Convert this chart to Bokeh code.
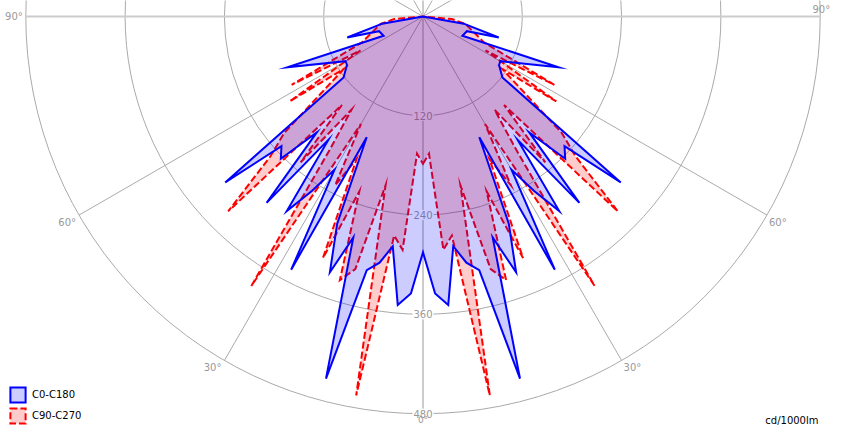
import numpy as np
from bokeh.plotting import figure
from bokeh.models import Range1d, Label, Legend, LegendItem
from bokeh.core.properties import value
from bokeh.embed import file_html
from bokeh.resources import INLINE

# ---- data (gamma angle in degrees, intensity in cd/1000lm), one half, mirrored for the other half
c0_angles = [0, 2.5, 5, 7.5, 10, 12.5, 15, 17.5, 20, 22.5, 25, 27.5, 30, 32.5, 35, 37.5, 40,
             42.5, 45, 47.5, 50, 52.5, 57.5, 60, 69.5, 64, 71.5, 74.5, 80, 90]
c0_values = [285, 335, 350, 280, 302, 314, 453, 280, 329, 271, 161, 345, 214, 250, 287, 188, 294,
             190, 243, 232, 312, 121, 109, 108, 175, 53, 56, 95, 50, 0]

c90_angles = [0, 2.5, 5, 7.5, 10, 12.5, 15, 17.5, 20, 22.5, 25, 27.5, 30, 32.5, 35, 37.5, 40,
              42.5, 45, 47.5, 50, 56.5, 57.5, 61.5, 62.5, 67, 75, 80, 85, 90]
c90_values = [178, 166, 283, 267, 465, 209, 316, 334, 225, 316, 190, 230, 150, 386, 196, 142, 230,
              145, 333, 250, 219, 115, 191, 86, 179, 80, 60, 52, 35, 0]

series_names = ["C0-C180", "C90-C270"]
ring_values = [120, 240, 360, 480]
spoke_angles = [0, 30, 60, 90, 120, 150, 180, 210, 240, 270, 300, 330]
main_spokes = [0, 90, 180, 270]
angle_label_values = [0, 30, 60, 90, -30, -60, -90]
angle_label_texts = ["0°", "30°", "60°", "90°", "30°", "60°", "90°"]
unit_text = "cd/1000lm"

# ---- layout
PX = 0.8275            # pixels per cd
W, H = 831, 425
CX, CY = 422.5, 16.0   # centre in frame pixels
FONT = "DejaVu Sans"
GRAY = "#999999"

def polar(angles, values):
    a = np.radians(np.asarray(angles, float))
    v = np.asarray(values, float)
    xr, yr = v * np.sin(a), -v * np.cos(a)
    return np.concatenate([xr, -xr[::-1]]), np.concatenate([yr, yr[::-1]])

x0 = -CX / PX
x1 = x0 + W / PX
y1 = CY / PX
y0 = y1 - H / PX

p = figure(width=W, height=H, x_range=Range1d(x0, x1), y_range=Range1d(y0, y1),
           output_backend="svg", toolbar_location=None, min_border=0,
           x_axis_location=None, y_axis_location=None)
p.grid.visible = False
p.outline_line_color = None
p.background_fill_color = "white"
p.border_fill_color = "white"

rmax = ring_values[-1]
# rings
p.circle(x=[0] * len(ring_values), y=[0] * len(ring_values), radius=ring_values,
         fill_alpha=0, line_color="#AAAAAA", line_width=1)
# spokes
thin = [a for a in spoke_angles if a not in main_spokes]
ta = np.radians(thin)
p.segment(x0=[0] * len(thin), y0=[0] * len(thin), x1=rmax * np.sin(ta), y1=-rmax * np.cos(ta),
          line_color="#AAAAAA", line_width=1)
ma = np.radians(main_spokes)
p.segment(x0=[0] * len(ma), y0=[0] * len(ma), x1=rmax * np.sin(ma), y1=-rmax * np.cos(ma),
          line_color="#CCCCCC", line_width=2)

# ring labels
p.text(x=[0] * len(ring_values), y=[-r for r in ring_values], text=[str(r) for r in ring_values],
       text_align="center", text_baseline="middle", text_color=GRAY,
       text_font=value(FONT), text_font_size="10px",
       background_fill_color="white", padding=1)

# angle labels
la = np.radians(angle_label_values)
lx = rmax * np.sin(la)
ly = -rmax * np.cos(la)
for i, t in enumerate(angle_label_texts):
    a = angle_label_values[i]
    if a == 0:
        al, bl, xo, yo, fs = "center", "bottom", 0, -11, "9px"
    elif a == 90:
        al, bl, xo, yo, fs = "right", "bottom", 10, 2, "10px"
    elif a == -90:
        al, bl, xo, yo, fs = "right", "middle", -3, 0, "10px"
    else:
        al, bl, xo, yo, fs = ("left" if a > 0 else "right"), "top", (2 if a > 0 else -3), -2, "10px"
    p.add_layout(Label(x=lx[i], y=ly[i], text=t, text_align=al, text_baseline=bl,
                       x_offset=xo, y_offset=yo, text_color=GRAY,
                       text_font=FONT, text_font_size=fs))

# curves
rx, ry = polar(c90_angles, c90_values)
bx, by = polar(c0_angles, c0_values)
r_red = p.patch(rx, ry, fill_color="#FF0000", fill_alpha=0.2, line_color="#FF0000",
                line_width=2, line_dash="7 3", line_join="miter")
r_blue = p.patch(bx, by, fill_color="#0000FF", fill_alpha=0.2, line_color="#0000FF",
                 line_width=2, line_join="miter")

legend = Legend(items=[LegendItem(label=series_names[0], renderers=[r_blue]),
                       LegendItem(label=series_names[1], renderers=[r_red])],
                location=(8, 0), glyph_width=19, glyph_height=19, spacing=2, padding=0,
                margin=0, label_standoff=5, border_line_alpha=0, background_fill_alpha=0,
                label_text_font=FONT, label_text_font_size="10px", label_text_color="black")
p.add_layout(legend)

p.add_layout(Label(x=818, y=5, x_units="screen", y_units="screen", text=unit_text,
                   text_align="right", text_baseline="middle", text_color="black",
                   text_font=FONT, text_font_size="10px"))

open("out.html", "w").write(file_html(p, INLINE))
